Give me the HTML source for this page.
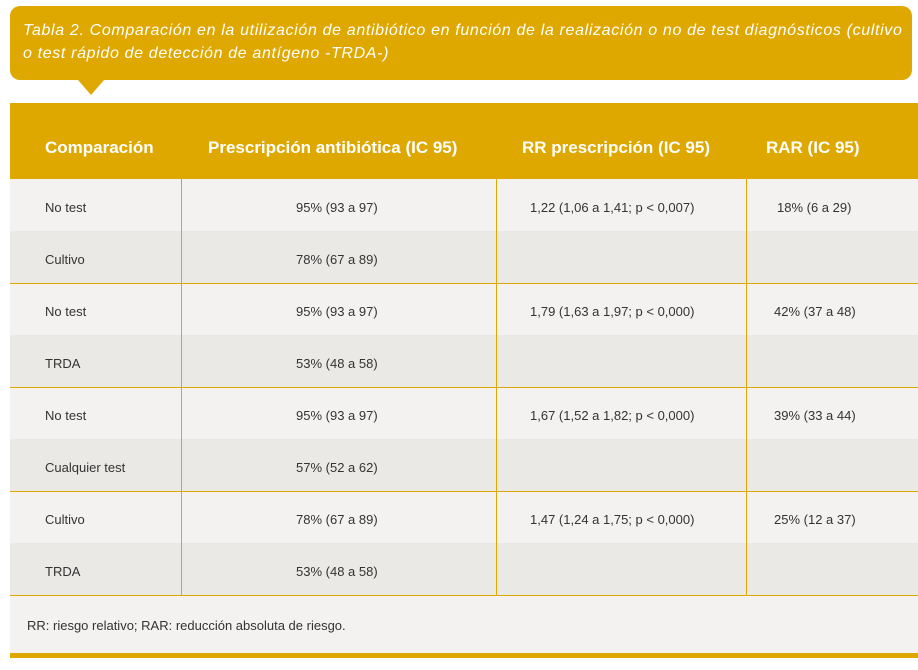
<!DOCTYPE html>
<html><head><meta charset="utf-8"><style>
body{margin:0;width:918px;height:670px;background:#fff;position:relative;font-family:"Liberation Sans","DejaVu Sans",sans-serif;overflow:hidden}
.cap{position:absolute;left:10px;top:6px;width:902px;height:74px;background:#dfa800;border-radius:10px;color:#fff;font-style:italic;font-size:16px;line-height:23px;box-sizing:border-box;padding:13px 0 0 13px;letter-spacing:0.65px;white-space:nowrap}
.tri{position:absolute;left:78px;top:80px;width:0;height:0;border-left:13px solid transparent;border-right:13px solid transparent;border-top:15px solid #dfa800}
.hd{position:absolute;left:10px;top:103px;width:908px;height:76px;background:#dfa800;color:#fff;font-weight:bold;font-size:17px}
.hd div{position:absolute;top:35px}
.row{position:absolute;left:10px;width:908px;height:52px;font-size:13px;color:#333}
.row div{position:absolute;top:21px}
.a{background:#f3f2f0}.b{background:#ebe9e6}
.vl{position:absolute;top:179px;height:417px;width:1px;background:#dfa800}
.hl{position:absolute;left:10px;width:908px;height:1px;background:#dfa800}
.ft{position:absolute;left:10px;top:596px;width:908px;height:57px;background:#f3f2f0;font-size:13px;color:#333}
.bar{position:absolute;left:10px;top:653px;width:908px;height:5px;background:#dfa800}
</style></head><body>
<div class="cap">Tabla 2. Comparación en la utilización de antibiótico en función de la realización o no de test diagnósticos (cultivo<br>o test rápido de detección de antígeno -TRDA-)</div>
<div class="tri"></div>
<div class="hd"><div style="left:35px">Comparación</div><div style="left:198px">Prescripción antibiótica (IC 95)</div><div style="left:512px">RR prescripción (IC 95)</div><div style="left:756px">RAR (IC 95)</div></div>

<div class="row a" style="top:179px"><div style="left:35px">No test</div><div style="left:286px">95% (93 a 97)</div><div style="left:520px">1,22 (1,06 a 1,41; p &lt; 0,007)</div><div style="left:767px">18% (6 a 29)</div></div>
<div class="row b" style="top:231px"><div style="left:35px">Cultivo</div><div style="left:286px">78% (67 a 89)</div></div>
<div class="row a" style="top:283px"><div style="left:35px">No test</div><div style="left:286px">95% (93 a 97)</div><div style="left:520px">1,79 (1,63 a 1,97; p &lt; 0,000)</div><div style="left:764px">42% (37 a 48)</div></div>
<div class="row b" style="top:335px"><div style="left:35px">TRDA</div><div style="left:286px">53% (48 a 58)</div></div>
<div class="row a" style="top:387px"><div style="left:35px">No test</div><div style="left:286px">95% (93 a 97)</div><div style="left:520px">1,67 (1,52 a 1,82; p &lt; 0,000)</div><div style="left:764px">39% (33 a 44)</div></div>
<div class="row b" style="top:439px"><div style="left:35px">Cualquier test</div><div style="left:286px">57% (52 a 62)</div></div>
<div class="row a" style="top:491px"><div style="left:35px">Cultivo</div><div style="left:286px">78% (67 a 89)</div><div style="left:520px">1,47 (1,24 a 1,75; p &lt; 0,000)</div><div style="left:764px">25% (12 a 37)</div></div>
<div class="row b" style="top:543px"><div style="left:35px">TRDA</div><div style="left:286px">53% (48 a 58)</div></div>

<div class="hl" style="top:283px"></div><div class="hl" style="top:387px"></div><div class="hl" style="top:491px"></div><div class="hl" style="top:595px"></div>
<div class="vl" style="left:181px"></div><div class="vl" style="left:496px"></div><div class="vl" style="left:746px"></div>
<div class="ft"><div style="position:absolute;left:17px;top:22px">RR: riesgo relativo; RAR: reducción absoluta de riesgo.</div></div>
<div class="bar"></div>
</body></html>
